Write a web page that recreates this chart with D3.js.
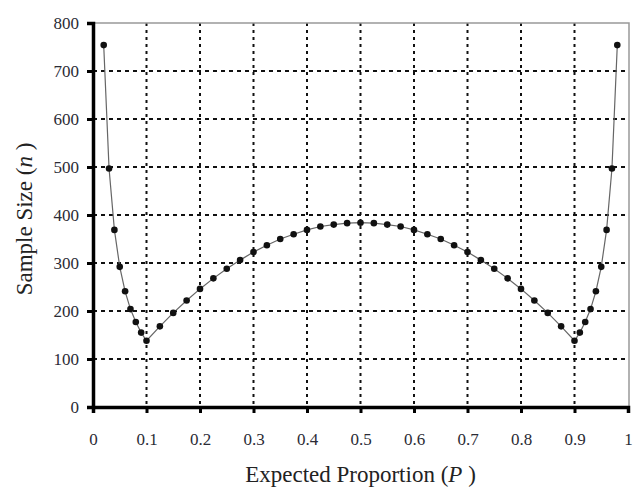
<!DOCTYPE html>
<html>
<head>
<meta charset="utf-8">
<script src="https://cdn.jsdelivr.net/npm/d3@7"></script>
<style>
  body { margin: 0; background: #fff; }
</style>
</head>
<body>
<div id="chart"></div>
<script>
// Values
const proportions = [
    0.02, 0.03, 0.04, 0.05, 0.06, 0.07, 0.08, 0.09, 0.10,
    0.125, 0.15, 0.175, 0.2, 0.225, 0.25, 0.275, 0.3, 0.325, 0.35, 0.375, 0.4, 0.425, 0.45, 0.475,
    0.5,
    0.525, 0.55, 0.575, 0.6, 0.625, 0.65, 0.675, 0.7, 0.725, 0.75, 0.775, 0.8, 0.825, 0.85, 0.875,
    0.90, 0.91, 0.92, 0.93, 0.94, 0.95, 0.96, 0.97, 0.98
];
const sampleSizes = [
    754, 497, 369, 292, 241, 204, 177, 155, 138,
    168, 196, 222, 246, 268, 288, 306, 323, 337, 350, 360, 369, 376, 380, 383,
    384,
    383, 380, 376, 369, 360, 350, 337, 323, 306, 288, 268, 246, 222, 196, 168,
    138, 155, 177, 204, 241, 292, 369, 497, 754
];
const xTicks = [0, 0.1, 0.2, 0.3, 0.4, 0.5, 0.6, 0.7, 0.8, 0.9, 1];
const yTicks = [0, 100, 200, 300, 400, 500, 600, 700, 800];

const data = proportions.map((p, i) => ({ p: p, n: sampleSizes[i] }));

const width = 633;
const height = 487;
const margin = { top: 23, right: 5, bottom: 80, left: 93 };
const innerW = width - margin.left - margin.right;
const innerH = height - margin.top - margin.bottom;
const serif = "Liberation Serif";

const svg = d3.select("#chart")
    .append("svg")
    .attr("width", width)
    .attr("height", height);

const g = svg.append("g")
    .attr("transform", `translate(${margin.left}, ${margin.top})`);

// Scales
const x = d3.scaleLinear().domain([0, 1]).range([0, innerW]);
const y = d3.scaleLinear().domain([0, 800]).range([innerH, 0]);

// Grid lines (dotted)
g.append("g")
    .selectAll("line")
    .data(xTicks.filter(d => d > 0 && d < 1))
    .enter()
    .append("line")
    .attr("x1", d => x(d))
    .attr("x2", d => x(d))
    .attr("y1", 0)
    .attr("y2", innerH)
    .attr("stroke", "#111")
    .attr("stroke-width", 2)
    .attr("stroke-dasharray", "3,4");

g.append("g")
    .selectAll("line")
    .data(yTicks.filter(d => d > 0 && d < 800))
    .enter()
    .append("line")
    .attr("x1", 0)
    .attr("x2", innerW)
    .attr("y1", d => y(d))
    .attr("y2", d => y(d))
    .attr("stroke", "#111")
    .attr("stroke-width", 2)
    .attr("stroke-dasharray", "4,4");

// Top and right border (gray)
g.append("path")
    .attr("d", `M0,${y(800)}H${x(1) + 1}V${innerH}`)
    .attr("fill", "none")
    .attr("stroke", "#999")
    .attr("stroke-width", 1.5);

// Axes
const xAxis = g.append("g")
    .attr("transform", `translate(0, ${innerH})`)
    .call(d3.axisBottom(x).tickValues(xTicks).tickSize(6).tickPadding(20)
        .tickFormat(d => d === 0 || d === 1 ? d3.format("d")(d) : d3.format(".1f")(d)));

const yAxis = g.append("g")
    .call(d3.axisLeft(y).tickValues(yTicks).tickSize(6).tickPadding(8));

[xAxis, yAxis].forEach(ax => {
    ax.attr("font-family", serif).attr("font-size", 17);
    ax.select(".domain").attr("stroke", "#000").attr("stroke-width", 3.5);
    ax.selectAll(".tick line").attr("stroke", "#000").attr("stroke-width", 3);
    ax.selectAll(".tick text")
        .attr("fill", "#2b2b35")
        .attr("font-family", serif)
        .attr("font-size", 17);
});

// Line
const line = d3.line()
    .x(d => x(d.p))
    .y(d => y(d.n));

g.append("path")
    .datum(data)
    .attr("d", line)
    .attr("fill", "none")
    .attr("stroke", "#666")
    .attr("stroke-width", 1.2);

// Points
g.selectAll("circle")
    .data(data)
    .enter()
    .append("circle")
    .attr("cx", d => x(d.p))
    .attr("cy", d => y(d.n))
    .attr("r", 3.3)
    .attr("fill", "#111");

// Axis titles
const xTitle = svg.append("text")
    .attr("x", margin.left + innerW / 2)
    .attr("y", 482)
    .attr("text-anchor", "middle")
    .attr("font-family", serif)
    .attr("font-size", 23)
    .attr("fill", "#222");
xTitle.append("tspan").text("Expected Proportion (");
xTitle.append("tspan").attr("font-style", "italic").text("P");
xTitle.append("tspan").text(" )");

const yTitle = svg.append("text")
    .attr("transform", `translate(32, 219) rotate(-90)`)
    .attr("text-anchor", "middle")
    .attr("font-family", serif)
    .attr("font-size", 23)
    .attr("fill", "#222");
yTitle.append("tspan").text("Sample Size (");
yTitle.append("tspan").attr("font-style", "italic").text("n");
yTitle.append("tspan").text(" )");
</script>
</body>
</html>
